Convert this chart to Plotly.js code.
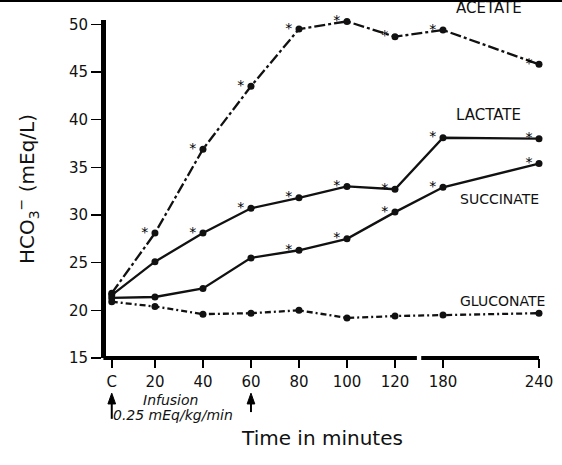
<!DOCTYPE html>
<html>
<head>
<meta charset="utf-8">
<script src="https://cdn.plot.ly/plotly-3.0.1.min.js"></script>
<style>
  html, body { margin: 0; padding: 0; background: #fff; }
  #wrap { position: relative; width: 562px; height: 465px; }
  #topline { position: absolute; left: 0; top: 0; width: 562px; height: 2px; background: #000; z-index: 5; }
  #chart { width: 562px; height: 465px; }
</style>
</head>
<body>
<div id="wrap"><div id="topline"></div><div id="chart"></div></div>
<script>
// ---- data ----
const times = ['C', 20, 40, 60, 80, 100, 120, 180, 240];
const tickLabels = ['C', '20', '40', '60', '80', '100', '120', '180', '240'];
const acetate   = [21.8, 28.1, 36.9, 43.5, 49.5, 50.3, 48.7, 49.4, 45.8];
const lactate   = [21.6, 25.1, 28.1, 30.7, 31.8, 33.0, 32.7, 38.1, 38.0];
const succinate = [21.3, 21.4, 22.3, 25.5, 26.3, 27.5, 30.3, 32.9, 35.4];
const gluconate = [20.9, 20.4, 19.6, 19.7, 20.0, 19.2, 19.4, 19.5, 19.7];
// significance markers (*) per point
const acetateSig   = [0, 1, 1, 1, 1, 1, 1, 1, 1];
const lactateSig   = [0, 0, 1, 1, 1, 1, 1, 1, 1];
const succinateSig = [0, 0, 0, 0, 1, 1, 1, 1, 1];
const gluconateSig = [0, 0, 0, 0, 0, 0, 0, 0, 0];
const seriesNames = ['ACETATE', 'LACTATE', 'SUCCINATE', 'GLUCONATE'];
const infusionStart = 'C';
const infusionEnd = 60;

// broken time axis: control point C just left of 20, compressed scale after the break
function axisPos(t) {
  if (t === 'C') return 2;
  if (t <= 120) return t;
  return 140 + (t - 180) * 2 / 3;
}
const xs = times.map(axisPos);
const ink = '#111';
const FONT = 'DejaVu Sans, sans-serif';

function series(name, y, dash) {
  return {
    type: 'scatter', mode: 'lines+markers', name: name,
    x: xs, y: y,
    line: { color: ink, width: 2.3, dash: dash },
    marker: { color: ink, size: 7, symbol: 'circle' },
    cliponaxis: false, hoverinfo: 'x+y'
  };
}
function stars(name, y, sig) {
  const idx = sig.map((s, i) => s ? i : -1).filter(i => i >= 0);
  return {
    type: 'scatter', mode: 'markers+text', name: name + ' *',
    x: idx.map(i => xs[i]), y: idx.map(i => y[i]),
    text: idx.map(() => '*'),
    textposition: 'middle left',
    marker: { size: 9, color: 'rgba(0,0,0,0)' },
    textfont: { family: FONT, size: 14, color: '#000' },
    cliponaxis: false, hoverinfo: 'skip'
  };
}

const starTraces = [
  stars(seriesNames[0], acetate, acetateSig),
  stars(seriesNames[1], lactate, lactateSig),
  stars(seriesNames[2], succinate, succinateSig),
  stars(seriesNames[3], gluconate, gluconateSig)
].filter(t => t.x.length > 0);

const data = [
  series(seriesNames[0], acetate, '11px,3px,3px,3px'),
  series(seriesNames[1], lactate, 'solid'),
  series(seriesNames[2], succinate, 'solid'),
  series(seriesNames[3], gluconate, '6px,3px,2px,3px')
].concat(starTraces);

function arrowShapes(xPos, yHead, yTail) {
  return [
    { type: 'line', xref: 'x', yref: 'paper', x0: xPos, x1: xPos, y0: yTail, y1: yHead - 0.02, line: { color: '#000', width: 2 } },
    { type: 'path', xref: 'x', yref: 'paper', fillcolor: '#000', line: { color: '#000', width: 1 },
      path: `M ${xPos - 1.6} ${yHead - 0.032} L ${xPos} ${yHead} L ${xPos + 1.6} ${yHead - 0.032} Z` }
  ];
}

const layout = {
  width: 562, height: 465,
  margin: { l: 106, r: 23, t: 20, b: 107 },
  paper_bgcolor: '#fff', plot_bgcolor: '#fff',
  showlegend: false,
  font: { family: FONT, color: ink },
  xaxis: {
    range: [-0.4, 180],
    tickmode: 'array', tickvals: xs, ticktext: tickLabels,
    ticks: 'outside', ticklen: 9, tickwidth: 1.5, tickcolor: '#000',
    tickfont: { family: FONT, size: 15, color: ink },
    ticklabelstandoff: 1,
    showline: false, showgrid: false, zeroline: false,
    title: { text: 'Time in minutes', font: { family: FONT, size: 20, color: ink }, standoff: 40 }
  },
  yaxis: {
    range: [15, 50.45],
    tickmode: 'array', tickvals: [15, 20, 25, 30, 35, 40, 45, 50],
    ticks: 'outside', ticklen: 10, tickwidth: 1.5, tickcolor: '#000',
    tickfont: { family: FONT, size: 15, color: ink },
    showline: true, linewidth: 5, linecolor: '#000',
    showgrid: false, zeroline: false,
    title: { text: 'HCO<sub>3</sub><sup>−</sup> (mEq/L)', font: { family: FONT, size: 20, color: ink }, standoff: 30 }
  },
  shapes: [
    // broken x-axis line
    { type: 'line', xref: 'paper', yref: 'paper', x0: -0.006, x1: 0.718, y0: 0, y1: 0, line: { color: '#000', width: 4 } },
    { type: 'line', xref: 'paper', yref: 'paper', x0: 0.728, x1: 1.0, y0: 0, y1: 0, line: { color: '#000', width: 4 } }
  ].concat(arrowShapes(axisPos(infusionStart), -0.104, -0.18))
   .concat(arrowShapes(axisPos(infusionEnd), -0.104, -0.16)),
  annotations: [
    { text: 'ACETATE', xref: 'paper', yref: 'paper', x: 0.804, y: 1.036, xanchor: 'left', yanchor: 'middle', showarrow: false, font: { family: FONT, size: 15, color: ink } },
    { text: 'LACTATE', xref: 'paper', yref: 'paper', x: 0.804, y: 0.718, xanchor: 'left', yanchor: 'middle', showarrow: false, font: { family: FONT, size: 15, color: ink } },
    { text: 'SUCCINATE', xref: 'paper', yref: 'paper', x: 0.812, y: 0.47, xanchor: 'left', yanchor: 'middle', showarrow: false, font: { family: FONT, size: 14, color: ink } },
    { text: 'GLUCONATE', xref: 'paper', yref: 'paper', x: 0.812, y: 0.17, xanchor: 'left', yanchor: 'middle', showarrow: false, font: { family: FONT, size: 14, color: ink } },
    { text: '<i>Infusion</i>', xref: 'paper', yref: 'paper', x: (170 - 106) / 433, y: (358 - 400) / 338, xanchor: 'center', yanchor: 'middle', showarrow: false, font: { family: FONT, size: 14, color: ink } },
    { text: '<i>0.25 mEq/kg/min</i>', xref: 'paper', yref: 'paper', x: (173 - 106) / 433, y: (358 - 415) / 338, xanchor: 'center', yanchor: 'middle', showarrow: false, font: { family: FONT, size: 14, color: ink } }
  ]
};

Plotly.newPlot('chart', data, layout, { staticPlot: true, displayModeBar: false });
</script>
</body>
</html>
